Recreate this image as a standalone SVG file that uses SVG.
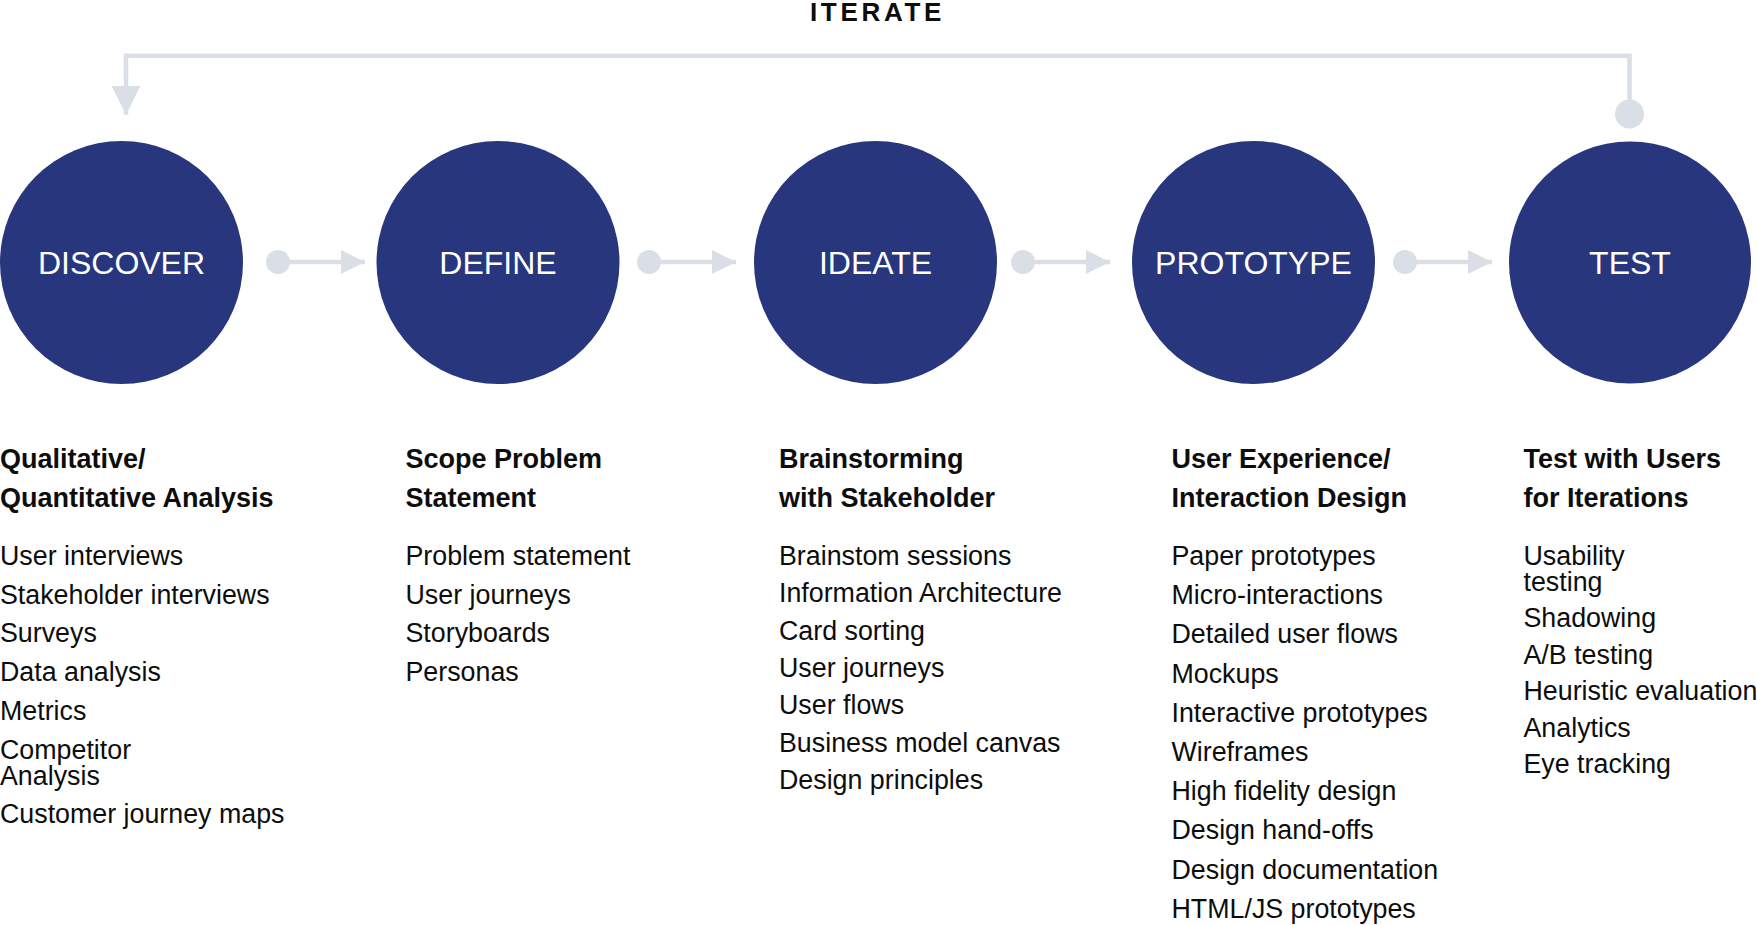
<svg xmlns="http://www.w3.org/2000/svg" width="1757" height="925" viewBox="0 0 1757 925">
<style>
.bg{fill:#ffffff}
.node{fill:#28367e}
.lbl{font-family:"Liberation Sans",Arial,sans-serif;font-size:32px;fill:#ffffff;text-anchor:middle}
.ttl{font-family:"Liberation Sans",Arial,sans-serif;font-size:26px;font-weight:bold;fill:#0d0d0d;letter-spacing:3.7px;text-anchor:middle}
.hd{font-family:"Liberation Sans",Arial,sans-serif;font-size:27px;font-weight:bold;fill:#0d0d0d}
.it{font-family:"Liberation Sans",Arial,sans-serif;font-size:26.8px;fill:#0d0d0d}
.ln{fill:none;stroke:#dadee7;stroke-width:4.5}
.dot{fill:#dadee7}
</style>
<defs>
<marker id="arr" markerUnits="userSpaceOnUse" viewBox="0 0 24 24" markerWidth="24" markerHeight="24" refX="24" refY="12" orient="auto">
<path d="M0,0 L24,12 L0,24 Z" fill="#dadee7"/>
</marker>
<marker id="arrLoop" markerUnits="userSpaceOnUse" viewBox="0 0 29 29" markerWidth="29" markerHeight="29" refX="29" refY="14.5" orient="auto">
<path d="M0,0 L29,14.5 L0,29 Z" fill="#dadee7"/>
</marker>
</defs>
<rect class="bg" x="0" y="0" width="1757" height="925"/>
<text class="ttl" x="877.5" y="21">ITERATE</text>
<g id="connectors">
<path class="ln" d="M1629.5,114 V55.7 H126 V114.8" marker-end="url(#arrLoop)"/>
<circle class="dot" cx="1629.5" cy="114" r="14.5"/>
<line class="ln" x1="278" y1="262" x2="365" y2="262" marker-end="url(#arr)"/>
<circle class="dot" cx="278" cy="262" r="12"/>
<line class="ln" x1="649" y1="262" x2="736" y2="262" marker-end="url(#arr)"/>
<circle class="dot" cx="649" cy="262" r="12"/>
<line class="ln" x1="1023" y1="262" x2="1110" y2="262" marker-end="url(#arr)"/>
<circle class="dot" cx="1023" cy="262" r="12"/>
<line class="ln" x1="1405" y1="262" x2="1492" y2="262" marker-end="url(#arr)"/>
<circle class="dot" cx="1405" cy="262" r="12"/>
</g>
<g id="discover">
<circle class="node" cx="121.5" cy="262.5" r="121.5"/>
<text class="lbl" x="121.5" y="274">DISCOVER</text>
<text class="hd" x="0" y="468">Qualitative/</text>
<text class="hd" x="0" y="506.5">Quantitative Analysis</text>
<text class="it" x="0" y="565">User interviews</text>
<text class="it" x="0" y="603.7">Stakeholder interviews</text>
<text class="it" x="0" y="642.4">Surveys</text>
<text class="it" x="0" y="681.1">Data analysis</text>
<text class="it" x="0" y="719.8">Metrics</text>
<text class="it" x="0" y="758.5">Competitor<tspan x="0" dy="26">Analysis</tspan></text>
<text class="it" x="0" y="823">Customer journey maps</text>
</g>
<g id="define">
<circle class="node" cx="498" cy="262.5" r="121.5"/>
<text class="lbl" x="498" y="274">DEFINE</text>
<text class="hd" x="405.5" y="468">Scope Problem</text>
<text class="hd" x="405.5" y="506.5">Statement</text>
<text class="it" x="405.5" y="565">Problem statement</text>
<text class="it" x="405.5" y="603.7">User journeys</text>
<text class="it" x="405.5" y="642.4">Storyboards</text>
<text class="it" x="405.5" y="681.1">Personas</text>
</g>
<g id="ideate">
<circle class="node" cx="875.5" cy="262.5" r="121.5"/>
<text class="lbl" x="875.5" y="274">IDEATE</text>
<text class="hd" x="779" y="468">Brainstorming</text>
<text class="hd" x="779" y="506.5">with Stakeholder</text>
<text class="it" x="779" y="565">Brainstom sessions</text>
<text class="it" x="779" y="602.3">Information Architecture</text>
<text class="it" x="779" y="639.6">Card sorting</text>
<text class="it" x="779" y="676.9">User journeys</text>
<text class="it" x="779" y="714.2">User flows</text>
<text class="it" x="779" y="751.5">Business model canvas</text>
<text class="it" x="779" y="788.8">Design principles</text>
</g>
<g id="prototype">
<circle class="node" cx="1253.5" cy="262.5" r="121.5"/>
<text class="lbl" x="1253.5" y="274">PROTOTYPE</text>
<text class="hd" x="1171.5" y="468">User Experience/</text>
<text class="hd" x="1171.5" y="506.5">Interaction Design</text>
<text class="it" x="1171.5" y="565">Paper prototypes</text>
<text class="it" x="1171.5" y="604.2">Micro-interactions</text>
<text class="it" x="1171.5" y="643.4">Detailed user flows</text>
<text class="it" x="1171.5" y="682.6">Mockups</text>
<text class="it" x="1171.5" y="721.8">Interactive prototypes</text>
<text class="it" x="1171.5" y="761">Wireframes</text>
<text class="it" x="1171.5" y="800.2">High fidelity design</text>
<text class="it" x="1171.5" y="839.4">Design hand-offs</text>
<text class="it" x="1171.5" y="878.6">Design documentation</text>
<text class="it" x="1171.5" y="917.8">HTML/JS prototypes</text>
</g>
<g id="test">
<circle class="node" cx="1630" cy="262.5" r="121"/>
<text class="lbl" x="1630" y="274">TEST</text>
<text class="hd" x="1523.5" y="468">Test with Users</text>
<text class="hd" x="1523.5" y="506.5">for Iterations</text>
<text class="it" x="1523.5" y="565">Usability<tspan x="1523.5" dy="26">testing</tspan></text>
<text class="it" x="1523.5" y="627">Shadowing</text>
<text class="it" x="1523.5" y="663.5">A/B testing</text>
<text class="it" x="1523.5" y="700">Heuristic evaluation</text>
<text class="it" x="1523.5" y="736.5">Analytics</text>
<text class="it" x="1523.5" y="773">Eye tracking</text>
</g>
</svg>
